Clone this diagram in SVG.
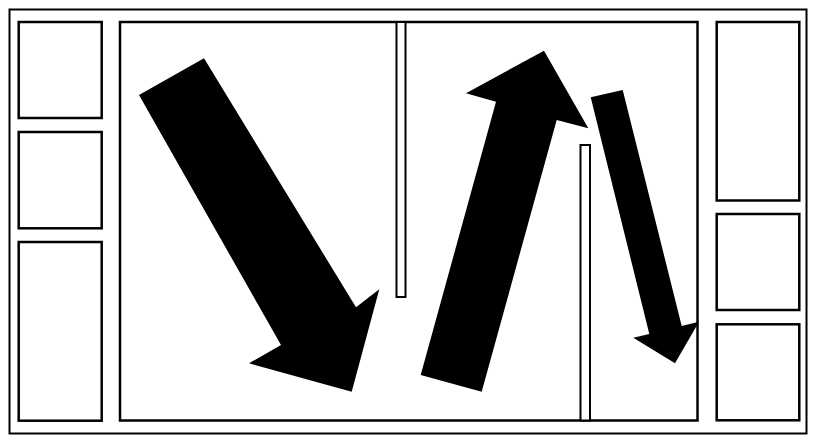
<svg xmlns="http://www.w3.org/2000/svg" width="817" height="446" viewBox="0 0 817 446">
<style>
.frame{fill:#fff;stroke:#000;stroke-width:2}
.box{fill:#fff;stroke:#000;stroke-width:2.5}
.bar{fill:#fff;stroke:#000;stroke-width:2}
.arrow{fill:#000;stroke:none}
</style>
<rect x="0" y="0" width="817" height="446" fill="#fff"/>
<g id="frame"><rect class="frame" x="9.5" y="9.5" width="797" height="424"/></g>
<g id="left-1"><rect class="box" x="18.7" y="22" width="83" height="96"/></g>
<g id="left-2"><rect class="box" x="18.7" y="132" width="83" height="96.3"/></g>
<g id="left-3"><rect class="box" x="18.7" y="242" width="83" height="178.7"/></g>
<g id="main"><rect class="box" x="120" y="22" width="577.5" height="398.5"/></g>
<g id="right-1"><rect class="box" x="716.7" y="22" width="82.6" height="178.5"/></g>
<g id="right-2"><rect class="box" x="716.7" y="214" width="82.6" height="96"/></g>
<g id="right-3"><rect class="box" x="716.7" y="324.3" width="82.6" height="96"/></g>
<g id="partition-1"><rect class="bar" x="396.5" y="22" width="9" height="275"/></g>
<g id="partition-2"><rect class="bar" x="580.5" y="145" width="9.5" height="275.5"/></g>
<g id="connectors">
<polygon class="arrow" points="139,95 204,58.3 356,307.3 379.3,289.3 351.7,391.7 249,363.3 281,345"/>
<polygon class="arrow" points="420.7,375 481.7,391.7 556.7,120 588.3,128.3 544,50.7 466,93.3 496,101.7"/>
<polygon class="arrow" points="590.7,97.3 622.7,90 681.7,326 699,321.7 675,363.3 633.3,337.7 649.3,334"/>
</g>
</svg>
